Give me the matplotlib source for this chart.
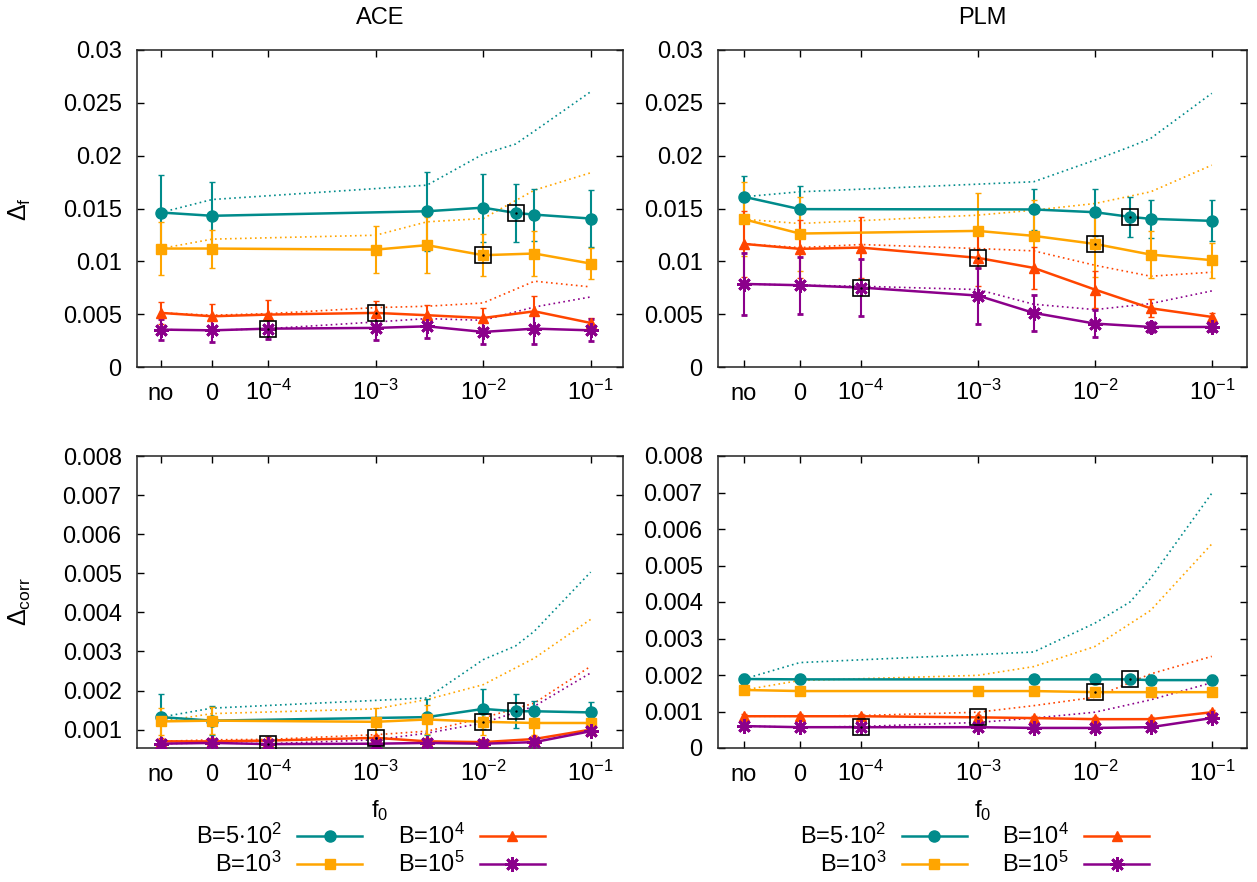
import matplotlib
matplotlib.use("Agg")
import matplotlib.pyplot as plt
from matplotlib.lines import Line2D
from matplotlib.ticker import FixedLocator, FuncFormatter, NullLocator

plt.rcParams['font.family'] = ['Liberation Sans', 'DejaVu Sans']
plt.rcParams['mathtext.fontset'] = 'custom'
plt.rcParams['mathtext.rm'] = 'Liberation Sans'
plt.rcParams['mathtext.it'] = 'Liberation Sans:italic'
plt.rcParams['mathtext.sf'] = 'Liberation Sans'

# "no" and "0" are drawn at stand-in spots left of 1e-4 on the log axis
NO = 1e-5
ZERO = 3e-5

f_teal = [NO, ZERO, 3e-3, 1e-2, 2e-2, 3e-2, 1e-1]
f_orange = [NO, ZERO, 1e-3, 3e-3, 1e-2, 3e-2, 1e-1]
f_red = [NO, ZERO, 1e-4, 1e-3, 3e-3, 1e-2, 3e-2, 1e-1]
f_purple = [NO, ZERO, 1e-4, 1e-3, 3e-3, 1e-2, 3e-2, 1e-1]

# chosen f0 for each B (black boxes)
best_f0 = [2e-2, 1e-2, 1e-3, 1e-4]

x_ticks = [NO, ZERO, 1e-4, 1e-3, 1e-2, 1e-1]
x_ticklabels = ['no', '0', r'$\mathregular{10^{-4}}$', r'$\mathregular{10^{-3}}$',
                r'$\mathregular{10^{-2}}$', r'$\mathregular{10^{-1}}$']

legend_labels = [r'B=5$\cdot$$\mathregular{10^2}$', r'B=$\mathregular{10^3}$',
                 r'B=$\mathregular{10^4}$', r'B=$\mathregular{10^5}$']

# ---- ACE, Delta_f
ace_f_teal = [0.01462, 0.01431, 0.01474, 0.01508, 0.01458, 0.01442, 0.01405]
ace_f_teal_err = [0.00354, 0.00322, 0.00373, 0.00322, 0.00278, 0.00246, 0.00268]
ace_f_teal_dot = [0.01462, 0.01585, 0.01721, 0.02015, 0.0211, 0.02233, 0.02605]
ace_f_orange = [0.01121, 0.01121, 0.01111, 0.01153, 0.01058, 0.01074, 0.00979]
ace_f_orange_err = [0.00253, 0.0018, 0.00221, 0.00265, 0.00196, 0.00212, 0.00148]
ace_f_orange_dot = [0.01121, 0.0121, 0.01247, 0.01374, 0.01405, 0.01674, 0.01838]
ace_f_red = [0.00512, 0.0048, 0.00496, 0.00512, 0.0049, 0.00464, 0.00527, 0.00417]
ace_f_red_err = [0.00104, 0.0012, 0.00136, 0.0011, 0.00095, 0.00095, 0.00145, 0.0005]
ace_f_red_dot = [0.00512, 0.0049, 0.00505, 0.00562, 0.00575, 0.00606, 0.00812, 0.00758]
ace_f_purple = [0.00354, 0.00347, 0.00363, 0.0037, 0.00385, 0.00332, 0.00363, 0.00347]
ace_f_purple_err = [0.00101, 0.0011, 0.00095, 0.0011, 0.0011, 0.0011, 0.00142, 0.00104]
ace_f_purple_dot = [0.00354, 0.00347, 0.00363, 0.00426, 0.00458, 0.00442, 0.00568, 0.00663]

# ---- PLM, Delta_f
plm_f_teal = [0.01611, 0.01494, 0.01491, 0.01465, 0.01421, 0.01402, 0.01383]
plm_f_teal_err = [0.00194, 0.00218, 0.00193, 0.00221, 0.00186, 0.00183, 0.00193]
plm_f_teal_dot = [0.01611, 0.01658, 0.01753, 0.01958, 0.02084, 0.02163, 0.0259]
plm_f_orange = [0.01398, 0.01263, 0.01288, 0.01241, 0.01165, 0.01064, 0.01011]
plm_f_orange_err = [0.0035, 0.0035, 0.00354, 0.00338, 0.00316, 0.00221, 0.00167]
plm_f_orange_dot = [0.01398, 0.01358, 0.01437, 0.01484, 0.01547, 0.01658, 0.0191]
plm_f_red = [0.01165, 0.01118, 0.0113, 0.01033, 0.00938, 0.00733, 0.00556, 0.00474]
plm_f_red_err = [0.0031, 0.00272, 0.0029, 0.00268, 0.002, 0.00174, 0.00085, 0.00041]
plm_f_red_dot = [0.01165, 0.0113, 0.01159, 0.01121, 0.01099, 0.00963, 0.00859, 0.00897]
plm_f_purple = [0.00786, 0.00774, 0.00752, 0.00676, 0.00512, 0.00411, 0.00379, 0.00379]
plm_f_purple_err = [0.00295, 0.00268, 0.00272, 0.00265, 0.00171, 0.0013, 0.00047, 0.00038]
plm_f_purple_dot = [0.00786, 0.00774, 0.00764, 0.00733, 0.00594, 0.00543, 0.006, 0.0072]

# ---- ACE, Delta_corr
ace_c_teal = [0.00132, 0.00123, 0.00132, 0.00153, 0.00147, 0.00147, 0.00144]
ace_c_teal_err = [0.0006, 0.00037, 0.00047, 0.00052, 0.00043, 0.00026, 0.00026]
ace_c_teal_dot = [0.00132, 0.00155, 0.00181, 0.00279, 0.00314, 0.00352, 0.00503]
ace_c_orange = [0.00121, 0.00123, 0.0012, 0.00126, 0.0012, 0.00117, 0.00117]
ace_c_orange_err = [0.00034, 0.00034, 0.00036, 0.00037, 0.00033, 0.0003, 0.00021]
ace_c_orange_dot = [0.00121, 0.00141, 0.00153, 0.00177, 0.00215, 0.00283, 0.00382]
ace_c_red = [0.0007, 0.0007, 0.00072, 0.00079, 0.0007, 0.00068, 0.00076, 0.001]
ace_c_red_err = [0.00008, 0.00008, 0.00008, 0.00008, 0.00008, 0.00008, 0.00008, 0.0001]
ace_c_red_dot = [0.0007, 0.00074, 0.00075, 0.00087, 0.00096, 0.0013, 0.00168, 0.00262]
ace_c_purple = [0.00064, 0.00066, 0.00063, 0.00064, 0.00066, 0.00064, 0.00068, 0.00096]
ace_c_purple_err = [0.00006, 0.00006, 0.00006, 0.00006, 0.00006, 0.00006, 0.00006, 0.00008]
ace_c_purple_dot = [0.00064, 0.00066, 0.00064, 0.00074, 0.00091, 0.00117, 0.0016, 0.00245]

# ---- PLM, Delta_corr
plm_c_teal = [0.00189, 0.00188, 0.00188, 0.00188, 0.00188, 0.00186, 0.00186]
plm_c_teal_err = [0.00013, 0.00013, 0.00013, 0.00013, 0.00013, 0.00013, 0.00013]
plm_c_teal_dot = [0.00189, 0.00234, 0.00263, 0.00342, 0.004, 0.00465, 0.00698]
plm_c_orange = [0.00159, 0.00156, 0.00156, 0.00156, 0.00153, 0.00153, 0.00153]
plm_c_orange_err = [0.0001, 0.0001, 0.0001, 0.0001, 0.0001, 0.0001, 0.0001]
plm_c_orange_dot = [0.00159, 0.00185, 0.00199, 0.00223, 0.00278, 0.00377, 0.00559]
plm_c_red = [0.00087, 0.00087, 0.00087, 0.00084, 0.00082, 0.00079, 0.00079, 0.00098]
plm_c_red_err = [0.00007, 0.00007, 0.00007, 0.00007, 0.00007, 0.00007, 0.00007, 0.00007]
plm_c_red_dot = [0.00087, 0.00087, 0.00089, 0.00098, 0.00116, 0.00139, 0.00203, 0.00251]
plm_c_purple = [0.0006, 0.00057, 0.00057, 0.00057, 0.00055, 0.00055, 0.00057, 0.00082]
plm_c_purple_err = [0.00005, 0.00005, 0.00005, 0.00005, 0.00005, 0.00005, 0.00005, 0.00005]
plm_c_purple_dot = [0.0006, 0.00057, 0.00059, 0.0007, 0.00082, 0.00098, 0.00132, 0.00179]

colors = ['#008b8b', '#ffa500', '#ff4500', '#8b008b']
markers = ['o', 's', '^', (8, 2, 0)]
msizes = [8, 6.5, 7, 10.5]
mews = [1, 1, 1, 2.0]
f_all = [f_teal, f_orange, f_red, f_purple]

FS = 17


def draw_panel(ax, ys, errs, dots, ylim, yticks):
    for fx, y, e, d, c, m, ms, mew, best in zip(f_all, ys, errs, dots, colors, markers, msizes, mews, best_f0):
        ax.plot(fx, d, color=c, lw=1.2, ls=(0, (1, 2)), zorder=2)
        ax.errorbar(fx, y, yerr=e, color=c, marker=m, ms=ms, mew=mew, lw=1.8,
                    elinewidth=1.5, capsize=2.2, capthick=1.5, zorder=3)
        i = fx.index(best)
        ax.plot([best], [y[i]], marker='s', ms=12, mfc='none', mec='black', mew=1.2, zorder=4)
        ax.plot([best], [y[i]], marker='.', ms=1.5, color='black', zorder=5)
    ax.set_xscale('log')
    ax.set_xlim(6e-6, 0.2)
    ax.set_ylim(*ylim)
    ax.xaxis.set_major_locator(FixedLocator(x_ticks))
    ax.xaxis.set_minor_locator(NullLocator())
    ax.set_xticklabels(x_ticklabels)
    ax.yaxis.set_major_locator(FixedLocator(yticks))
    ax.yaxis.set_major_formatter(FuncFormatter(lambda v, p: '%g' % round(v, 6)))
    ax.tick_params(direction='in', top=True, right=True, length=5, width=1, labelsize=FS)
    ax.tick_params(axis='x', pad=24)
    ax.tick_params(axis='y', pad=11)
    plt.setp(ax.get_xticklabels(), va='baseline')
    for s in ax.spines.values():
        s.set_linewidth(1.1)
        s.set_color('#222222')


fig = plt.figure(figsize=(12.57, 8.82), dpi=100)
W, H = 1257, 882
ax_tl = fig.add_axes([137 / W, 1 - 367 / H, 486 / W, 317 / H])
ax_tr = fig.add_axes([718 / W, 1 - 367 / H, 529 / W, 317 / H])
ax_bl = fig.add_axes([137 / W, 1 - 748 / H, 486 / W, 292 / H])
ax_br = fig.add_axes([718 / W, 1 - 748 / H, 529 / W, 292 / H])

yt_f = [0, 0.005, 0.01, 0.015, 0.02, 0.025, 0.03]
yt_c = [0, 0.001, 0.002, 0.003, 0.004, 0.005, 0.006, 0.007, 0.008]

draw_panel(ax_tl,
           [ace_f_teal, ace_f_orange, ace_f_red, ace_f_purple],
           [ace_f_teal_err, ace_f_orange_err, ace_f_red_err, ace_f_purple_err],
           [ace_f_teal_dot, ace_f_orange_dot, ace_f_red_dot, ace_f_purple_dot],
           (0, 0.03), yt_f)
draw_panel(ax_tr,
           [plm_f_teal, plm_f_orange, plm_f_red, plm_f_purple],
           [plm_f_teal_err, plm_f_orange_err, plm_f_red_err, plm_f_purple_err],
           [plm_f_teal_dot, plm_f_orange_dot, plm_f_red_dot, plm_f_purple_dot],
           (0, 0.03), yt_f)
draw_panel(ax_bl,
           [ace_c_teal, ace_c_orange, ace_c_red, ace_c_purple],
           [ace_c_teal_err, ace_c_orange_err, ace_c_red_err, ace_c_purple_err],
           [ace_c_teal_dot, ace_c_orange_dot, ace_c_red_dot, ace_c_purple_dot],
           (0.00053, 0.008), yt_c)
draw_panel(ax_br,
           [plm_c_teal, plm_c_orange, plm_c_red, plm_c_purple],
           [plm_c_teal_err, plm_c_orange_err, plm_c_red_err, plm_c_purple_err],
           [plm_c_teal_dot, plm_c_orange_dot, plm_c_red_dot, plm_c_purple_dot],
           (0, 0.008), yt_c)

ax_tl.set_title('ACE', fontsize=FS, pad=18.5)
ax_tr.set_title('PLM', fontsize=FS, pad=18.5)

fig.text(20 / W, 1 - 209 / H, r'$\Delta_\mathregular{f}$', rotation=90, ha='center', va='center', fontsize=FS + 1)
fig.text(20 / W, 1 - 602 / H, r'$\Delta_\mathregular{corr}$', rotation=90, ha='center', va='center', fontsize=FS + 1)

for ax, lx in [(ax_bl, 0.48), (ax_br, 0.485)]:
    ax.set_xlabel(r'f$_\mathregular{0}$', fontsize=FS)
    ax.xaxis.set_label_coords(0.5, -0.172)
    handles = [Line2D([], [], color=c, lw=1.8, marker=m, ms=ms, mew=mew)
               for c, m, ms, mew in zip(colors, markers, msizes, mews)]
    ax.legend(handles, legend_labels, loc='center', bbox_to_anchor=(lx, -0.351),
              ncol=2, frameon=False, markerfirst=False, fontsize=FS,
              handlelength=2.75, handletextpad=0.65, columnspacing=1.5,
              labelspacing=0.1, borderpad=0, borderaxespad=0)

fig.savefig('out.png', dpi=100)
